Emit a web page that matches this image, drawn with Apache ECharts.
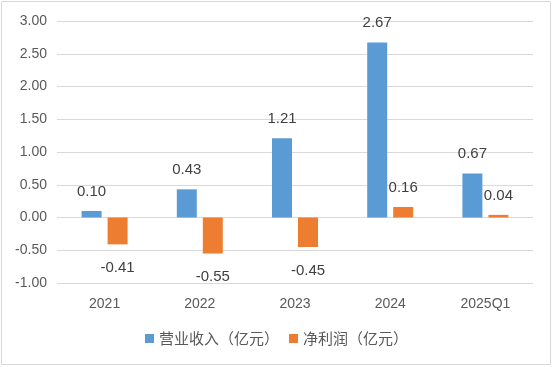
<!DOCTYPE html>
<html><head><meta charset="utf-8">
<script src="https://cdn.jsdelivr.net/npm/echarts@6/dist/echarts.min.js"></script>
<style>html,body{margin:0;padding:0;background:#fff}#c{width:553px;height:367px}</style>
</head><body><div id="c"></div>
<script>
const categories = ['2021', '2022', '2023', '2024', '2025Q1'];
const revenue = [0.10, 0.43, 1.21, 2.67, 0.67];
const netProfit = [-0.41, -0.55, -0.45, 0.16, 0.04];
const seriesNames = ['营业收入（亿元）', '净利润（亿元）'];

const chart = echarts.init(document.getElementById('c'), null, {renderer: 'canvas'});
const txt = '#595959';
const fontFam = '"Liberation Sans", "Noto Sans CJK SC", sans-serif';
function labelFor(pos) {
  return {
    show: true, fontSize: 15, color: '#404040', fontFamily: fontFam,
    distance: pos === 'top' ? 12 : 16,
    formatter: p => p.value.toFixed(2),
    position: pos
  };
}
function mkData(arr) {
  return arr.map(v => ({value: v, label: labelFor(v >= 0 ? 'top' : 'bottom')}));
}
chart.setOption({
  animation: false,
  graphic: [{type: 'rect', shape: {x: 1.5, y: 1.5, width: 549, height: 363}, style: {fill: 'none', stroke: '#d9d9d9', lineWidth: 1}, z: -1}],
  grid: {left: 57, right: 20, top: 21, bottom: 84, containLabel: false},
  legend: {
    data: seriesNames, bottom: 16, left: 'center', icon: 'rect', itemWidth: 9, itemHeight: 9, itemGap: 10,
    textStyle: {fontSize: 15, color: txt, fontFamily: '"Noto Sans CJK SC", sans-serif'}
  },
  xAxis: {
    type: 'category', data: categories, position: 'bottom',
    axisLine: {show: false}, axisTick: {show: false},
    axisLabel: {fontSize: 14, color: txt, fontFamily: fontFam, margin: 14}
  },
  yAxis: {
    type: 'value', min: -1, max: 3, interval: 0.5,
    axisLine: {show: false}, axisTick: {show: false},
    splitLine: {lineStyle: {color: '#d9d9d9', width: 1}},
    axisLabel: {fontSize: 14, color: txt, fontFamily: fontFam, margin: 10, formatter: v => v.toFixed(2)}
  },
  series: [
    {name: seriesNames[0], type: 'bar', data: mkData(revenue), barWidth: 20, barGap: '30%', itemStyle: {color: '#5B9BD5'}},
    {name: seriesNames[1], type: 'bar', data: mkData(netProfit), barWidth: 20, barGap: '30%', itemStyle: {color: '#ED7D31'}}
  ]
});
</script></body></html>
